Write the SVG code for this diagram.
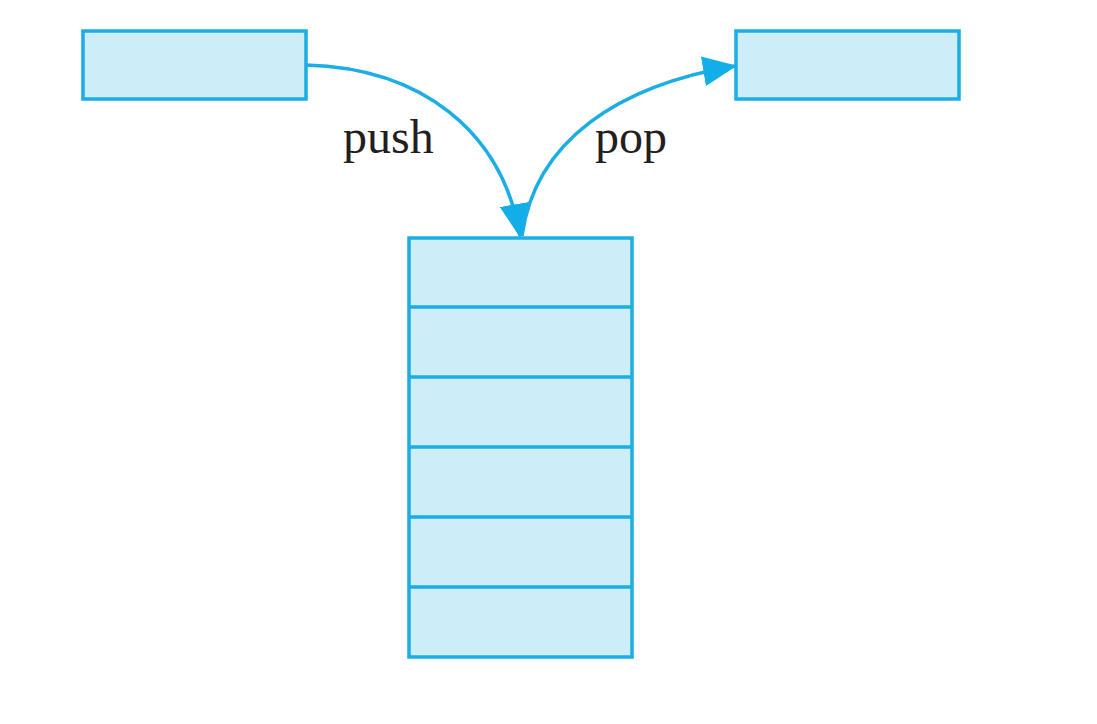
<svg xmlns="http://www.w3.org/2000/svg" width="1097" height="724" viewBox="0 0 1097 724">
<style>
.box{fill:#cdedf9;stroke:#1aaee5;stroke-width:3.5}
.div{stroke:#1aaee5;stroke-width:3.5}
.conn{fill:none;stroke:#1aaee5;stroke-width:3.5}
.lbl{font-family:"Liberation Serif",serif;font-size:48px;fill:#231f20}
</style>
<defs>
<marker id="a" viewBox="0 0 34 30" refX="32" refY="15" markerWidth="34" markerHeight="30" markerUnits="userSpaceOnUse" orient="auto">
<path d="M0,0 L34,15 L0,30 z" fill="#12aee8"/>
</marker>
</defs>
<rect width="1097" height="724" fill="#ffffff"/>
<g id="src">
<rect class="box" x="83" y="31" width="223" height="68"/>
</g>
<g id="dst">
<rect class="box" x="736" y="31" width="223" height="68"/>
</g>
<g id="stack">
<rect class="box" x="409" y="238" width="223" height="419"/>
<line class="div" x1="409" y1="307" x2="632" y2="307"/>
<line class="div" x1="409" y1="377" x2="632" y2="377"/>
<line class="div" x1="409" y1="447" x2="632" y2="447"/>
<line class="div" x1="409" y1="517" x2="632" y2="517"/>
<line class="div" x1="409" y1="587" x2="632" y2="587"/>
</g>
<g id="connectors">
<path class="conn" d="M306,65 C420,68 502,130 520,236" marker-end="url(#a)"/>
<path class="conn" d="M522,236 C535,140 620,85 735,66" marker-end="url(#a)"/>
</g>
<g id="labels">
<text class="lbl" x="343" y="153">push</text>
<text class="lbl" x="595" y="153">pop</text>
</g>
</svg>
